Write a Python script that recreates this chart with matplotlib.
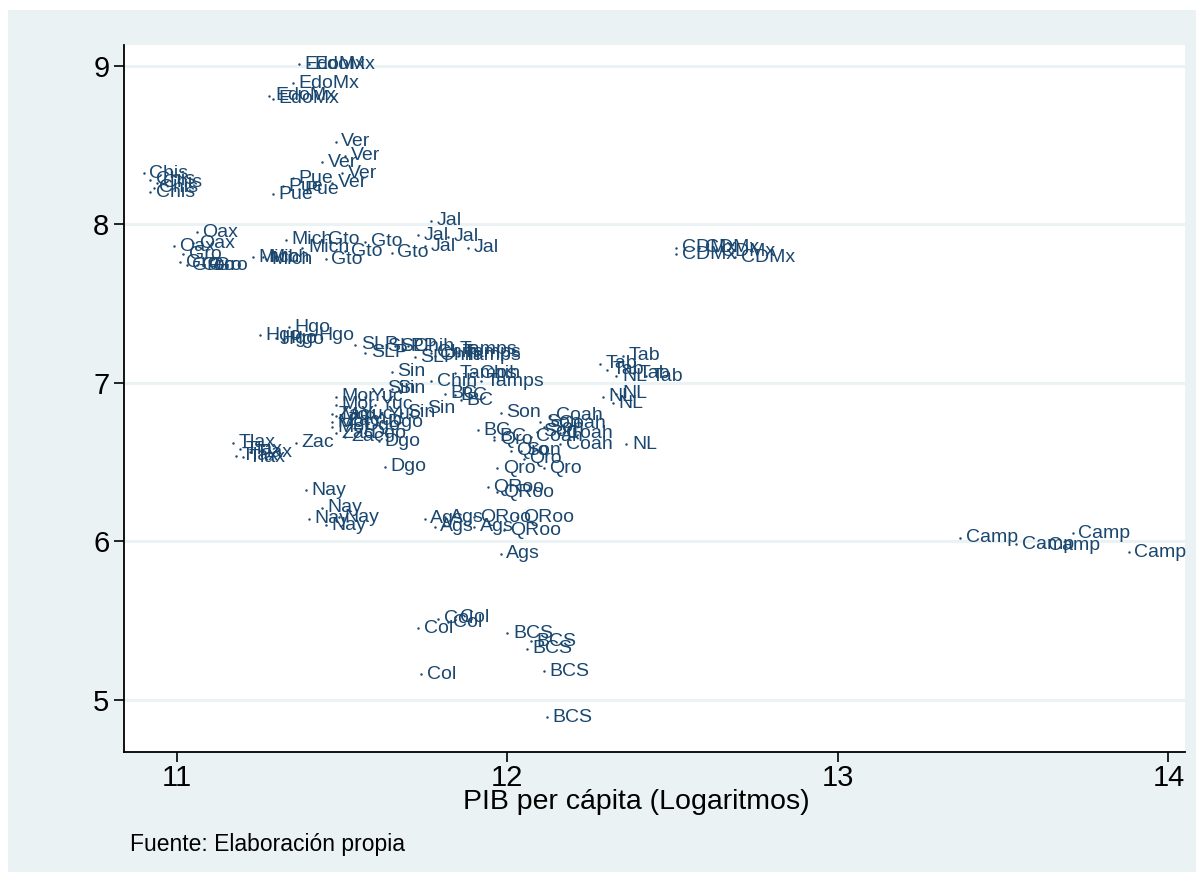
import matplotlib
matplotlib.use("Agg")
import matplotlib.pyplot as plt
from matplotlib.patches import Rectangle

plt.rcParams['font.family'] = ['Liberation Sans', 'DejaVu Sans']

# --- Datos ---
estados = (
    ["EdoMx"] * 5 + ["Ver"] * 5 + ["Pue"] * 4 + ["Chis"] * 5 + ["Oax"] * 3 + ["Gro"] * 6
    + ["Mich"] * 5 + ["Gto"] * 5 + ["Jal"] * 5 + ["CDMx"] * 5 + ["Hgo"] * 5 + ["SLP"] * 5
    + ["Chih"] * 5 + ["Tamps"] * 5 + ["Sin"] * 5 + ["Mor"] * 5 + ["Yuc"] * 5 + ["Zac"] * 5
    + ["Dgo"] * 5 + ["Tlax"] * 5 + ["Nay"] * 5 + ["Ags"] * 5 + ["QRoo"] * 5 + ["Qro"] * 5
    + ["Son"] * 5 + ["Coah"] * 5 + ["BC"] * 5 + ["Tab"] * 5 + ["NL"] * 5 + ["Col"] * 5
    + ["BCS"] * 5 + ["Camp"] * 5
)

pib_pc_log = [
    11.37, 11.40, 11.35, 11.28, 11.29,   # EdoMx
    11.48, 11.51, 11.44, 11.50, 11.47,   # Ver
    11.35, 11.32, 11.37, 11.29,          # Pue
    10.90, 10.92, 10.94, 10.93, 10.92,   # Chis
    11.06, 11.05, 10.99,                 # Oax
    11.02, 11.01, 11.03, 11.06, 11.08, 11.10,  # Gro
    11.33, 11.38, 11.23, 11.26, 11.27,   # Mich
    11.44, 11.57, 11.51, 11.65, 11.45,   # Gto
    11.77, 11.73, 11.82, 11.75, 11.88,   # Jal
    12.51, 12.51, 12.58, 12.63, 12.69,   # CDMx
    11.34, 11.25, 11.41, 11.30, 11.32,   # Hgo
    11.54, 11.62, 11.57, 11.72, 11.66,   # SLP
    11.70, 11.77, 11.78, 11.90, 11.77,   # Chih
    11.84, 11.85, 11.85, 11.84, 11.92,   # Tamps
    11.65, 11.62, 11.65, 11.68, 11.74,   # Sin
    11.48, 11.48, 11.47, 11.47, 11.48,   # Mor
    11.57, 11.60, 11.62, 11.54, 11.57,   # Yuc
    11.47, 11.48, 11.36, 11.50, 11.51,   # Zac
    11.57, 11.61, 11.63, 11.62, 11.55,   # Dgo
    11.17, 11.19, 11.22, 11.18, 11.20,   # Tlax
    11.39, 11.44, 11.40, 11.49, 11.45,   # Nay
    11.75, 11.81, 11.78, 11.90, 11.98,   # Ags
    11.94, 11.97, 11.90, 12.03, 11.99,   # QRoo
    11.96, 12.01, 12.05, 11.97, 12.11,   # Qro
    11.98, 12.10, 12.11, 12.04, 12.09,   # Son
    12.13, 12.14, 12.07, 12.16, 12.16,   # Coah
    11.81, 11.84, 11.86, 11.91, 11.96,   # BC
    12.35, 12.28, 12.30, 12.38, 12.42,   # Tab
    12.33, 12.29, 12.33, 12.32, 12.36,   # NL
    11.73, 11.79, 11.82, 11.84, 11.74,   # Col
    12.00, 12.07, 12.06, 12.11, 12.12,   # BCS
    13.37, 13.54, 13.62, 13.71, 13.88,   # Camp
]

y_vals = [
    9.01, 9.01, 8.89, 8.81, 8.79,        # EdoMx
    8.52, 8.43, 8.39, 8.32, 8.26,        # Ver
    8.29, 8.24, 8.22, 8.19,              # Pue
    8.32, 8.28, 8.26, 8.23, 8.20,        # Chis
    7.95, 7.88, 7.86,                    # Oax
    7.81, 7.76, 7.74, 7.74, 7.74, 7.74,  # Gro
    7.90, 7.85, 7.79, 7.79, 7.78,        # Mich
    7.90, 7.89, 7.83, 7.82, 7.78,        # Gto
    8.02, 7.93, 7.92, 7.86, 7.85,        # Jal
    7.85, 7.81, 7.85, 7.83, 7.79,        # CDMx
    7.35, 7.30, 7.30, 7.28, 7.27,        # Hgo
    7.24, 7.23, 7.19, 7.16, 7.23,        # SLP
    7.23, 7.19, 7.17, 7.06, 7.01,        # Chih
    7.21, 7.19, 7.17, 7.06, 7.01,        # Tamps
    7.07, 6.96, 6.96, 6.81, 6.84,        # Sin
    6.91, 6.86, 6.75, 6.72, 6.79,        # Mor
    6.91, 6.86, 6.80, 6.80, 6.76,        # Yuc
    6.80, 6.68, 6.62, 6.76, 6.66,        # Zac
    6.68, 6.63, 6.47, 6.75, 6.73,        # Dgo
    6.62, 6.58, 6.56, 6.54, 6.53,        # Tlax
    6.32, 6.21, 6.14, 6.15, 6.10,        # Nay
    6.14, 6.15, 6.09, 6.09, 5.92,        # Ags
    6.34, 6.31, 6.15, 6.15, 6.07,        # QRoo
    6.64, 6.57, 6.52, 6.46, 6.46,        # Qro
    6.81, 6.75, 6.72, 6.57, 6.69,        # Son
    6.79, 6.74, 6.66, 6.68, 6.61,        # Coah
    6.93, 6.92, 6.89, 6.70, 6.66,        # BC
    7.17, 7.12, 7.08, 7.06, 7.04,        # Tab
    7.04, 6.91, 6.93, 6.87, 6.61,        # NL
    5.45, 5.51, 5.49, 5.52, 5.16,        # Col
    5.42, 5.37, 5.32, 5.18, 4.89,        # BCS
    6.02, 5.98, 5.97, 6.05, 5.93,        # Camp
]

x_ticks = [11, 12, 13, 14]
y_ticks = [5, 6, 7, 8, 9]

navy = "#1a476f"
fondo = "#eaf2f3"

# --- Figura ---
fig = plt.figure(figsize=(12.04, 8.84), dpi=100, facecolor="white")
fig.patches.append(Rectangle((8 / 1204, 12 / 884), 1188 / 1204, 862 / 884,
                             transform=fig.transFigure, facecolor=fondo,
                             edgecolor="none", zorder=-10))

ax = fig.add_axes([124 / 1204, 132 / 884, 1061 / 1204, 707 / 884])
ax.set_facecolor("white")

ax.plot(pib_pc_log, y_vals, linestyle="none", marker=".", markersize=1.5,
        color=navy, zorder=3)
for lab, xv, yv in zip(estados, pib_pc_log, y_vals):
    ax.annotate(lab, (xv, yv), xytext=(4, 0), textcoords="offset points",
                ha="left", va="center", fontsize=14, color=navy, zorder=4)

ax.set_xlim(10.84, 14.05)
ax.set_ylim(4.67, 9.13)
ax.set_xticks(x_ticks)
ax.set_yticks(y_ticks)
ax.grid(axis="y", color=fondo, linewidth=2.2, zorder=0)
ax.set_axisbelow(True)

for s in ["top", "right"]:
    ax.spines[s].set_visible(False)
for s in ["left", "bottom"]:
    ax.spines[s].set_linewidth(1.3)
    ax.spines[s].set_color("black")

ax.tick_params(axis="both", labelsize=21, length=7, width=1.2, color="black")
ax.tick_params(axis="x", pad=2)
ax.set_xlabel("PIB per cápita (Logaritmos)", fontsize=20.5)
ax.xaxis.set_label_coords((636 - 124) / 1061, -0.052)

fig.text(130 / 1204, 1 - 845 / 884, "Fuente: Elaboración propia",
         fontsize=16.5, ha="left", va="center")

fig.savefig("out.png", dpi=100, facecolor=fig.get_facecolor())
